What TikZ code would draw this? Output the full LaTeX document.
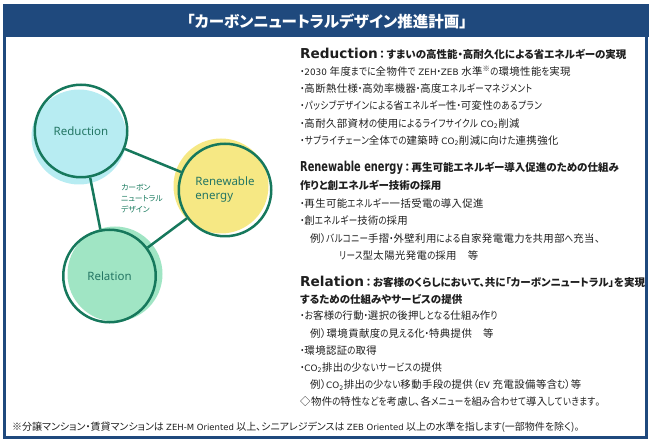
\documentclass[tikz,border=0pt]{standalone}
\usepackage{graphicx}
\usepackage{fontspec}
\setmainfont{Noto Sans CJK JP}[RawFeature=+palt]
\newfontfamily\enfont{DejaVu Sans}[Scale=0.85]
\newfontfamily\enbig{DejaVu Sans}[Scale=1.3]
\newfontfamily\ringfont{Noto Sans}
\newcommand\lat[1]{{\enfont#1}}
\newcommand\hlat[1]{{\enbig\bfseries#1}}
\newcommand\hlatn[1]{\scalebox{0.72}[1]{\hlat{#1}}}
\usetikzlibrary{positioning,backgrounds}

% kana runs get their own (narrower) font where a style asks for it
\XeTeXinterchartokenstate=1
\chardef\kanacls=77
\newcount\kanaidx
\kanaidx="3041
\loop
  \XeTeXcharclass\kanaidx=\kanacls
  \ifnum\kanaidx<"30FF \advance\kanaidx by 1
\repeat
\def\kanafont{}
\XeTeXinterchartoks 0 \kanacls = {\begingroup\kanafont}
\XeTeXinterchartoks 1 \kanacls = {\begingroup\kanafont}
\XeTeXinterchartoks 2 \kanacls = {\begingroup\kanafont}
\XeTeXinterchartoks 3 \kanacls = {\begingroup\kanafont}
\XeTeXinterchartoks 4095 \kanacls = {\begingroup\kanafont}
\XeTeXinterchartoks \kanacls 0 = {\endgroup}
\XeTeXinterchartoks \kanacls 1 = {\endgroup}
\XeTeXinterchartoks \kanacls 2 = {\endgroup}
\XeTeXinterchartoks \kanacls 3 = {\endgroup}
\XeTeXinterchartoks \kanacls 4095 = {\endgroup}

\definecolor{navy}{RGB}{31,73,125}
\definecolor{ink}{RGB}{30,30,30}
\definecolor{ringc}{RGB}{22,120,92}
\definecolor{labc}{RGB}{36,118,100}
\definecolor{redfill}{RGB}{183,236,242}
\definecolor{renfill}{RGB}{246,232,132}
\definecolor{relfill}{RGB}{160,229,196}

\begin{document}
\begin{tikzpicture}[
    x=1pt, y=-1pt,
    font=\fontsize{10}{12}\selectfont,
    frame/.style ={draw=navy, line width=3pt},
    ring/.style  ={circle, draw=ringc, line width=2.5pt, inner sep=0pt,
                   minimum size=92.5pt, align=left, text=labc,
                   font=\ringfont\fontsize{11.5}{14}\selectfont},
    disc/.style  ={circle, inner sep=0pt, minimum size=95pt},
    link/.style  ={draw=ringc, line width=2.5pt},
    hd/.style    ={anchor=base west, inner sep=0pt, text=ink,
                   text height=9pt, text depth=2.5pt,
                   font=\bfseries\fontsize{10.5}{13}\selectfont},
    li/.style    ={anchor=base west, inner sep=0pt, text=ink,
                   text height=8pt, text depth=2pt,
                   font=\fontsize{10.4}{12}\selectfont\addfontfeature{LetterSpace=4}%
                        \def\kanafont{\addfontfeature{FakeStretch=0.82}}},
    fn/.style    ={anchor=base west, inner sep=0pt, text=ink,
                   text height=8pt, text depth=2pt,
                   font=\fontsize{10}{12}\selectfont},
    nextln/.style={below=17.2pt of #1.base west, anchor=base west},
]
\useasboundingbox (0,0) rectangle (653,443);

% ============================================================
% FRAME + TITLE BAR
% ============================================================
\draw[frame] (4.5,20) rectangle (646.5,437.5);
\fill[navy] (3,4) rectangle (649,37);
\node[text=white, font=\bfseries\fontsize{15.5}{18}\selectfont] (title) at (327,21)
    {「カーボンニュートラルデザイン推進計画」};

% ============================================================
% LEFT — three circles
% ============================================================
\node[ring] (red) at (81,131)    {Reduction};
\node[ring] (ren) at (225,190)   {Renewable\\energy};
\node[ring] (rel) at (109.5,276) {Relation};

\draw[link] (red) -- (ren);
\draw[link] (red) -- (rel);
\draw[link] (ren) -- (rel);

\node[anchor=west, align=left, inner sep=0pt, text=ringc,
      font=\fontsize{7.8}{11}\selectfont] (core) at (121,199)
    {カーボン\\ニュートラル\\デザイン};

\begin{pgfonlayer}{background}
  \node[disc, fill=redfill] (redbg) at (79,137)  {};
  \node[disc, fill=renfill] (renbg) at (221,186) {};
  \node[disc, fill=relfill] (relbg) at (115,274) {};
\end{pgfonlayer}

% ============================================================
% RIGHT — Reduction
% ============================================================
\node[hd] (h1) at (300,59)
    {\hlat{Reduction}\,：\,すまいの高性能・高耐久化による省エネルギーの実現};
\node[li, below=16.5pt of h1.base west, anchor=base west] (r1)
    {・\lat{2030} 年度までに全物件で \lat{ZEH}・\lat{ZEB} 水準\textsuperscript{※}の環境性能を実現};
\node[li, nextln=r1] (r2) {・高断熱仕様・高効率機器・高度エネルギーマネジメント};
\node[li, nextln=r2] (r3) {・パッシブデザインによる省エネルギー性・可変性のあるプラン};
\node[li, nextln=r3] (r4) {・高耐久部資材の使用によるライフサイクル \lat{CO\textsubscript{2}}削減};
\node[li, nextln=r4] (r5) {・サプライチェーン全体での建築時 \lat{CO\textsubscript{2}}削減に向けた連携強化};

% ============================================================
% RIGHT — Renewable energy
% ============================================================
\node[hd, below=27.5pt of r5.base west, anchor=base west] (h2)
    {\hlatn{Renewable energy}\,：\,再生可能エネルギー導入促進のための仕組み};
\node[hd, below=18pt of h2.base west, anchor=base west] (h2b)
    {作りと創エネルギー技術の採用};
\node[li, below=18pt of h2b.base west, anchor=base west] (n1)
    {・再生可能エネルギー一括受電の導入促進};
\node[li, nextln=n1] (n2) {・創エネルギー技術の採用};
\node[li, nextln=n2, xshift=10pt] (n3)
    {例）バルコニー手摺・外壁利用による自家発電電力を共用部へ充当、};
\node[li, nextln=n3, xshift=29pt] (n4) {リース型太陽光発電の採用　等};

% ============================================================
% RIGHT — Relation
% ============================================================
\node[hd, below=27pt of n4.base west, anchor=base west, xshift=-39pt] (h3)
    {\hlat{Relation}\,：\,お客様のくらしにおいて、共に「カーボンニュートラル」を実現};
\node[hd, below=17pt of h3.base west, anchor=base west] (h3b)
    {するための仕組みやサービスの提供};
\node[li, below=16.5pt of h3b.base west, anchor=base west] (l1)
    {・お客様の行動・選択の後押しとなる仕組み作り};
\node[li, nextln=l1, xshift=10pt] (l2) {例）環境貢献度の見える化・特典提供　等};
\node[li, nextln=l2, xshift=-10pt] (l3) {・環境認証の取得};
\node[li, nextln=l3] (l4) {・\lat{CO\textsubscript{2}}排出の少ないサービスの提供};
\node[li, nextln=l4, xshift=10pt] (l5)
    {例）\lat{CO\textsubscript{2}}排出の少ない移動手段の提供（\lat{EV} 充電設備等含む）等};
\node[li, nextln=l5, xshift=-10pt] (note)
    {◇物件の特性などを考慮し、各メニューを組み合わせて導入していきます。};

% footnote
\node[fn] (foot) at (12,430.5)
    {※分譲マンション・賃貸マンションは \lat{ZEH-M Oriented} 以上、シニアレジデンスは \lat{ZEB Oriented} 以上の水準を指します(一部物件を除く)。};

\end{tikzpicture}
\end{document}
